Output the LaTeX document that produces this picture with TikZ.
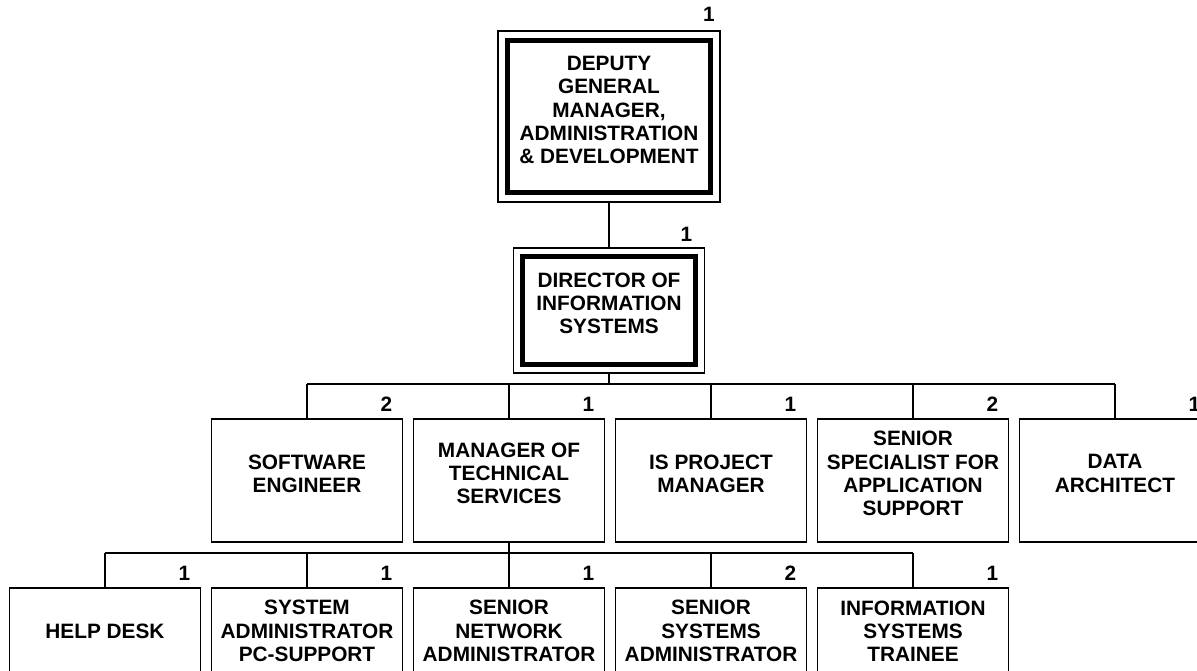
\documentclass[tikz,border=0pt]{standalone}
\usepackage{fontspec}
\setmainfont{Liberation Sans}
\usetikzlibrary{calc}

\tikzset{
  post/.style={draw, line width=0.9pt, minimum width=95.5pt, minimum height=61.5pt, inner sep=0pt},
  postlow/.style={post, minimum height=50pt},
  txt/.style={align=center, inner sep=0pt, font=\fontsize{10.4}{11.6}\selectfont\bfseries},
  num/.style={inner sep=0pt, font=\fontsize{10.4}{12}\selectfont\bfseries},
  wire/.style={line width=0.9pt},
  thickframe/.style={line width=2.5pt}
}

\begin{document}
\begin{tikzpicture}[x=0.5pt, y=-0.5pt]
        \useasboundingbox (0,0) rectangle (1197,670);
        \clip (0,0) rectangle (1197,670);

        \node[post, minimum width=111pt, minimum height=85.5pt] (dgm) at (609,116.5) {};
        \draw[thickframe] ([shift={(10,10)}]dgm.north west) rectangle ([shift={(-10,-10)}]dgm.south east);
        \node[txt] (dgm-t) at ([shift={(0,-6.5)}]dgm.center) {DEPUTY\\GENERAL\\MANAGER,\\ADMINISTRATION\\\& DEVELOPMENT};
        \node[num] (dgm-n) at ([shift={(-12,-16)}]dgm.north east) {1};

        \node[post, minimum height=62.5pt] (dis) at (609,310.5) {};
        \draw[thickframe] ([shift={(9.5,9.5)}]dis.north west) rectangle ([shift={(-9.5,-9.5)}]dis.south east);
        \node[txt] (dis-t) at ([shift={(0,-7)}]dis.center) {DIRECTOR OF\\INFORMATION\\SYSTEMS};
        \node[num] (dis-n) at ([shift={(-19,-13)}]dis.north east) {1};

        \draw[wire] (dgm.south) -- (dis.north);

        \coordinate (bus1) at (0,384);
        \coordinate (bus2) at (0,553);

        \foreach \n/\x/\c/\t in {se/307/2/{SOFTWARE\\ENGINEER},
                                 mts/509/1/{MANAGER OF\\TECHNICAL\\SERVICES},
                                 ispm/711/1/{IS PROJECT\\MANAGER},
                                 ssas/913/2/{SENIOR\\SPECIALIST FOR\\APPLICATION\\SUPPORT},
                                 da/1115/1/{DATA\\ARCHITECT}} {
            \node[post] (\n) at (\x,480.5) {};
            \node[txt] (\n-t) at ([shift={(0,-7)}]\n.center) {\t};
            \node[num] (\n-n) at ([shift={(-17,-14)}]\n.north east) {\c};
            \draw[wire] (\n.north) -- (\n.north |- bus1);
        }

        \foreach \n/\x/\c/\t in {hd/105/1/{HELP DESK},
                                 sapc/307/1/{SYSTEM\\ADMINISTRATOR\\PC-SUPPORT},
                                 sna/509/1/{SENIOR\\NETWORK\\ADMINISTRATOR},
                                 ssa/711/2/{SENIOR\\SYSTEMS\\ADMINISTRATOR},
                                 ist/913/1/{INFORMATION\\SYSTEMS\\TRAINEE}} {
            \node[postlow] (\n) at (\x,638) {};
            \node[txt] (\n-t) at ([shift={(0,-7)}]\n.center) {\t};
            \node[num] (\n-n) at ([shift={(-17,-14)}]\n.north east) {\c};
            \draw[wire] (\n.north) -- (\n.north |- bus2);
        }

        \draw[wire] (dis.south) -- (dis.south |- bus1);
        \draw[wire] (se.north |- bus1) -- (da.north |- bus1);
        \draw[wire] (mts.south) -- (mts.south |- bus2);
        \draw[wire] (hd.north |- bus2) -- (ist.north |- bus2);
    \end{tikzpicture}
\end{document}
